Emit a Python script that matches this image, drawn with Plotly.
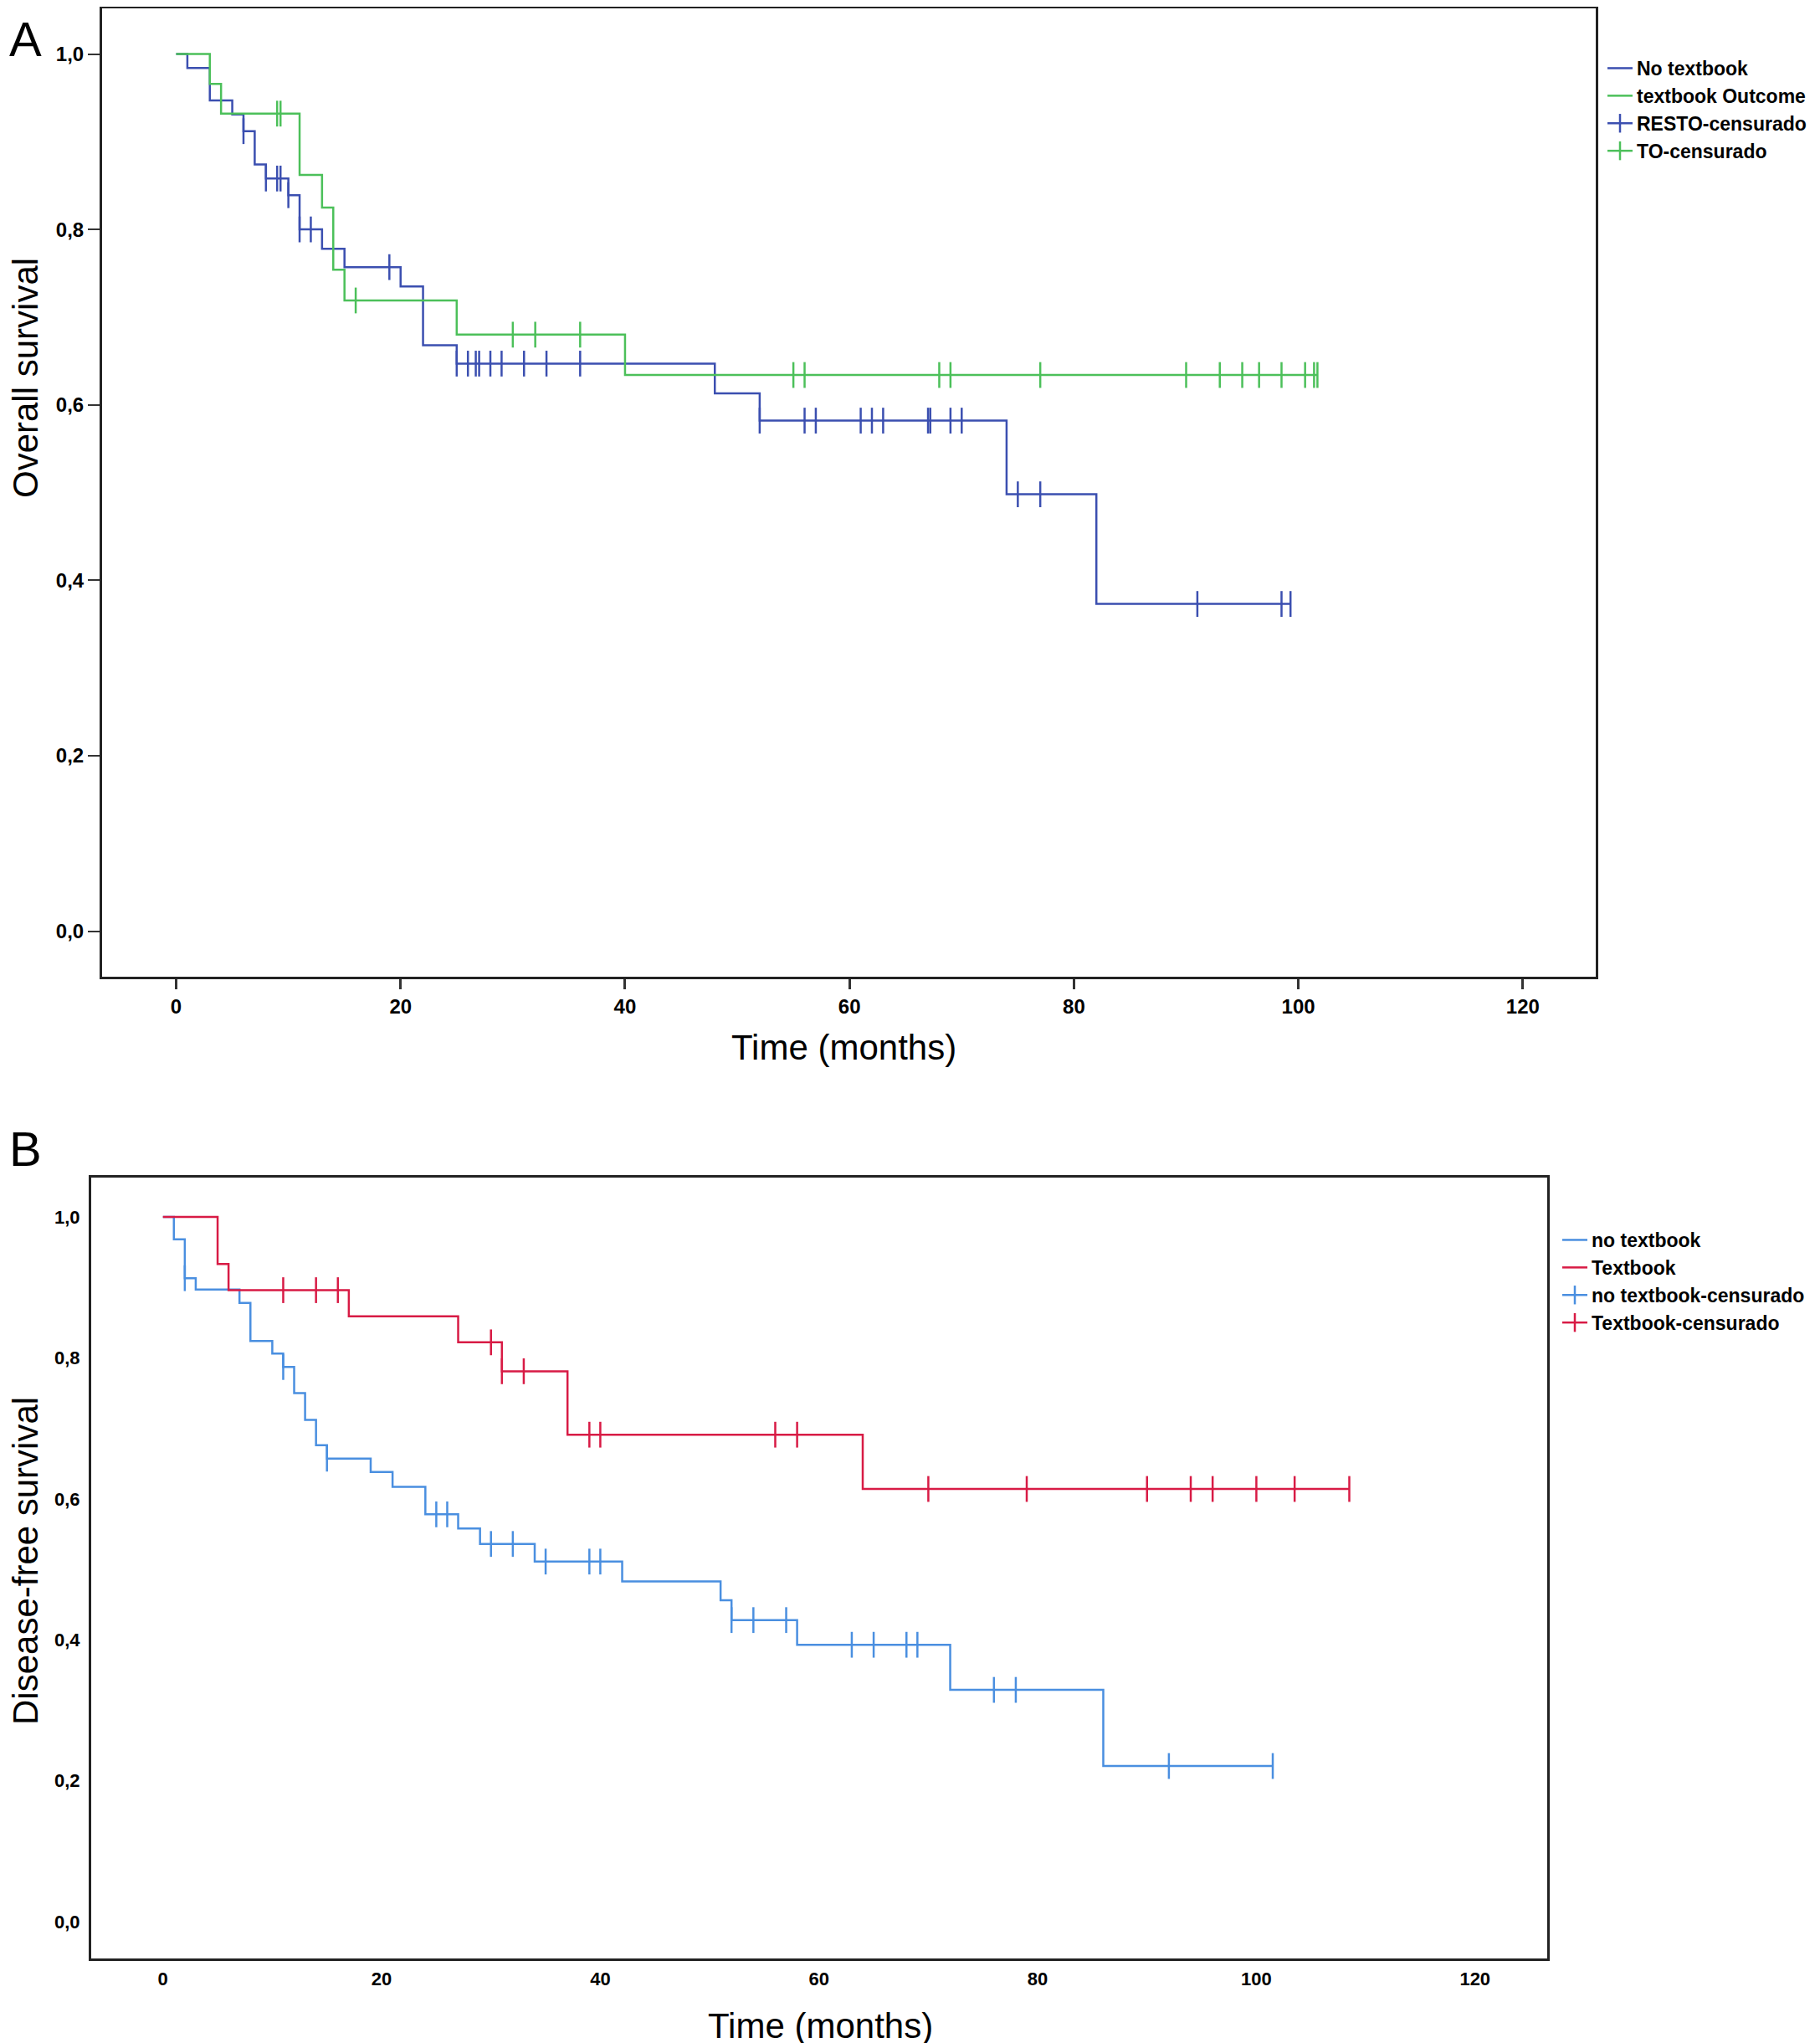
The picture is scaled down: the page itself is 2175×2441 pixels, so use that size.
import plotly.graph_objects as go

# ---- panel A: overall survival (Kaplan-Meier) ----
a_no_event_t = [1, 3, 5, 6, 7, 8, 10, 11, 13, 15, 20, 22, 25, 48, 52, 74, 82]
a_no_surv = [0.984, 0.947, 0.931, 0.912, 0.874, 0.858, 0.839, 0.800, 0.778, 0.757,
             0.735, 0.668, 0.647, 0.613, 0.582, 0.498, 0.373]
a_no_cens = [6, 8, 9, 9.3, 10, 11, 12, 19, 25, 26, 26.7, 27, 28, 29, 31, 33, 36,
             52, 56, 57, 61, 62, 63, 67, 67.2, 69, 70, 75, 77, 91, 98.5, 99.3]

a_to_event_t = [3, 4, 11, 13, 14, 15, 25, 40]
a_to_surv = [0.966, 0.932, 0.862, 0.825, 0.754, 0.719, 0.680, 0.634]
a_to_cens = [9, 9.3, 16, 30, 32, 36, 55, 56, 68, 69, 77, 90, 93, 95, 96.5, 98.5,
             100.6, 101.4, 101.7]

# ---- panel B: disease-free survival ----
b_no_event_t = [1, 2, 3, 7, 8, 10, 11, 12, 13, 14, 15, 19, 21, 24, 27, 29, 34, 42,
                51, 52, 58, 72, 86]
b_no_surv = [0.968, 0.913, 0.897, 0.878, 0.824, 0.806, 0.787, 0.750, 0.712, 0.676,
             0.657, 0.638, 0.617, 0.578, 0.558, 0.536, 0.511, 0.483, 0.456, 0.428,
             0.393, 0.329, 0.221]
b_no_cens = [2, 11, 15, 25, 26, 30, 32, 35, 39, 40, 52, 54, 57, 63, 65, 68, 69, 76,
             78, 92, 101.5]

b_tb_event_t = [5, 6, 17, 27, 31, 37, 64]
b_tb_surv = [0.933, 0.896, 0.859, 0.822, 0.781, 0.691, 0.614]
b_tb_cens = [11, 14, 16, 30, 31, 33, 39, 40, 56, 58, 70, 79, 90, 94, 96, 100,
             103.5, 108.5]

x_ticks = [0, 20, 40, 60, 80, 100, 120]
y_ticks = [0.0, 0.2, 0.4, 0.6, 0.8, 1.0]
y_ticktext = ["0,0", "0,2", "0,4", "0,6", "0,8", "1,0"]

BLUE_A = "#3b4fb0"
GREEN_A = "#4cc05a"
BLUE_B = "#4a8fe0"
RED_B = "#d81b45"

NARROW = "Liberation Sans Narrow, Liberation Sans, Arial"


def step_xy(event_t, surv, cens):
    end = max(event_t + cens)
    xs = [0] + list(event_t) + [end]
    ys = [1.0] + list(surv) + [surv[-1]]
    return xs, ys


def surv_at(t, event_t, surv):
    v = 1.0
    for e, s in zip(event_t, surv):
        if e <= t:
            v = s
    return v


def cens_xy(event_t, surv, cens):
    # None between points so no segment is drawn, but the legend shows line + tick
    xs, ys = [], []
    for c in cens:
        xs += [c, None]
        ys += [surv_at(c, event_t, surv), None]
    return xs, ys


fig = go.Figure()


def add_group(event_t, surv, cens, color, name, cname, xa, ya, legend):
    sx, sy = step_xy(event_t, surv, cens)
    fig.add_trace(go.Scatter(
        x=sx, y=sy, mode="lines", line_shape="hv",
        line=dict(color=color, width=2.5),
        name=name, xaxis=xa, yaxis=ya, legend=legend
    ))
    cx, cy = cens_xy(event_t, surv, cens)
    fig.add_trace(go.Scatter(
        x=cx, y=cy, mode="lines+markers",
        line=dict(color=color, width=2.5),
        marker=dict(symbol="line-ns", size=22, line=dict(color=color, width=2.5)),
        name=cname, xaxis=xa, yaxis=ya, legend=legend
    ))


add_group(a_no_event_t, a_no_surv, a_no_cens, BLUE_A, "No textbook", "RESTO-censurado", "x", "y", "legend")
add_group(a_to_event_t, a_to_surv, a_to_cens, GREEN_A, "textbook Outcome", "TO-censurado", "x", "y", "legend")
add_group(b_no_event_t, b_no_surv, b_no_cens, BLUE_B, "no textbook", "no textbook-censurado", "x2", "y2", "legend2")
add_group(b_tb_event_t, b_tb_surv, b_tb_cens, RED_B, "Textbook", "Textbook-censurado", "x2", "y2", "legend2")

# legend order: lines first, then censored markers
for i, tr in enumerate(fig.data):
    tr.legendrank = [1, 3, 2, 4, 1, 3, 2, 4][i]

W, H = 2175, 2441
OFF = 8  # page body margin shifts the figure by 8px


def px_x(v):
    return min(1.0, max(0.0, (v - OFF) / W))


def px_y(v):
    return min(1.0, max(0.0, 1 - (v - OFF) / H))


frame = dict(showline=True, linecolor="#222222", linewidth=3, mirror=True,
             showgrid=False, zeroline=False)
tick_font_a = dict(family=NARROW, size=24, color="black", weight="bold")
tick_font_b = dict(family=NARROW, size=22, color="black", weight="bold")

fig.update_layout(
    width=W, height=H,
    margin=dict(l=0, r=0, t=0, b=0),
    paper_bgcolor="white", plot_bgcolor="white",
    showlegend=True,
    xaxis=dict(domain=[px_x(122), px_x(1907)], anchor="y", range=[-6.6, 126.5],
               tickvals=x_ticks, ticks="outside", ticklen=12, tickwidth=3,
               tickcolor="#333333", tickfont=tick_font_a, **frame),
    yaxis=dict(domain=[px_y(1167), px_y(10)], anchor="x", range=[-0.052, 1.052],
               tickvals=y_ticks, ticktext=y_ticktext, ticks="outside", ticklen=14,
               tickwidth=2, tickcolor="#333333", tickfont=tick_font_a, **frame),
    xaxis2=dict(domain=[px_x(109), px_x(1849)], anchor="y2", range=[-6.56, 126.6],
                tickvals=x_ticks, ticks="", ticklabelstandoff=3,
                tickfont=tick_font_b, **frame),
    yaxis2=dict(domain=[px_y(2340), px_y(1407)], anchor="x2", range=[-0.052, 1.0557],
                tickvals=y_ticks, ticktext=y_ticktext, ticks="", ticklabelstandoff=6,
                tickfont=tick_font_b, **frame),
    legend=dict(x=px_x(1916), y=px_y(60), xanchor="left", yanchor="top",
                bgcolor="rgba(0,0,0,0)", tracegroupgap=0, itemwidth=30,
                font=dict(family=NARROW, size=23, color="black", weight="bold")),
    legend2=dict(x=px_x(1862), y=px_y(1460), xanchor="left", yanchor="top",
                 bgcolor="rgba(0,0,0,0)", tracegroupgap=0, itemwidth=30,
                 font=dict(family=NARROW, size=23, color="black", weight="bold")),
)

title_font = dict(family=NARROW, size=42, color="black")
letter_font = dict(family="Liberation Sans, Arial", size=58, color="black")


def label(text, x, y, font, angle=0):
    fig.add_annotation(text=text, x=px_x(x), y=px_y(y), xref="paper", yref="paper",
                       xanchor="center", yanchor="middle", textangle=angle,
                       showarrow=False, font=font)


label("A", 30, 46, letter_font)
label("B", 30, 1372, letter_font)
label("Overall survival", 30, 452, title_font, -90)
label("Time (months)", 1008, 1251, title_font)
label("Disease-free survival", 30, 1865, title_font, -90)
label("Time (months)", 980, 2420, title_font)

fig.write_html("out.html")
